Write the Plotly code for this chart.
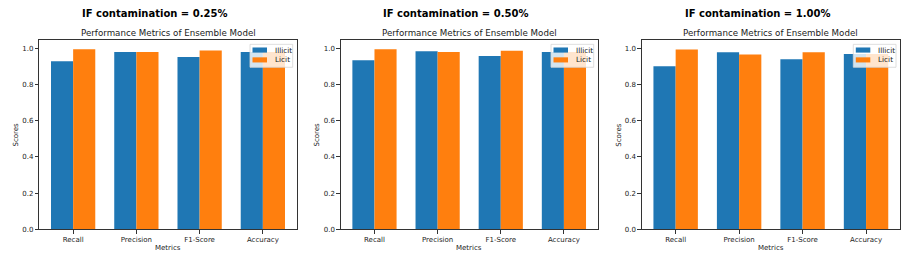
import plotly.graph_objects as go

metrics = ["Recall", "Precision", "F1-Score", "Accuracy"]
panel_titles = ["IF contamination = 0.25%", "IF contamination = 0.50%", "IF contamination = 1.00%"]
series_names = ["Illicit", "Licit"]
illicit_025 = [0.929, 0.981, 0.953, 0.981]
licit_025 = [0.996, 0.981, 0.989, 0.981]
illicit_050 = [0.935, 0.985, 0.958, 0.981]
licit_050 = [0.996, 0.981, 0.987, 0.981]
illicit_100 = [0.902, 0.979, 0.940, 0.970]
licit_100 = [0.994, 0.967, 0.980, 0.970]
y_ticks = [0.0, 0.2, 0.4, 0.6, 0.8, 1.0]

W, H = 912, 268
FONT = "DejaVu Sans"
TXT = "#1a1a1a"
COLORS = ["#1f77b4", "#ff7f0e"]

panels = [
    (illicit_025, licit_025, (39.3, 296.7), 154.5, 15.7),
    (illicit_050, licit_050, (340.7, 597.7), 455.7, 316.7),
    (illicit_100, licit_100, (641.7, 900.0), 757.7, 619.0),
]
y_dom = [1 - 232.7 / H, 1 - 41 / H]

def px(x):
    return x / W

def py(y):
    return 1 - y / H

fig = go.Figure()
layout = dict(
    width=W, height=H, margin=dict(l=0, r=0, t=0, b=0),
    paper_bgcolor="white", plot_bgcolor="white",
    barmode="group", bargap=0.3, bargroupgap=0,
    font=dict(family=FONT, size=7, color=TXT),
    showlegend=False,
)
annotations = []
shapes = []
for i, (ill, lic, (x0, x1), sup_x, ylab_x) in enumerate(panels):
    n = "" if i == 0 else str(i + 1)
    xa, ya = "x" + n, "y" + n
    for vals, name, col in zip([ill, lic], series_names, COLORS):
        fig.add_trace(go.Bar(x=metrics, y=vals, name=name, marker=dict(color=col, line=dict(width=0)),
                             xaxis=xa, yaxis=ya))
    axis_common = dict(showline=True, linecolor="#333", linewidth=0.8, mirror=True,
                       ticks="outside", ticklen=3.5, tickwidth=0.8, tickcolor="#333",
                       showgrid=False, zeroline=False, tickfont=dict(family=FONT, size=7, color=TXT))
    layout["xaxis" + n] = dict(domain=[px(x0), px(x1)], anchor=ya, range=[-0.535, 3.535],
                               type="category", categoryorder="array", categoryarray=metrics, **axis_common)
    layout["yaxis" + n] = dict(domain=y_dom, anchor=xa, range=[0, 1.045], tickvals=y_ticks,
                               tickformat=".1f", **axis_common)
    # legend box (upper right, matplotlib style)
    bx0, bx1, by0, by1 = x1 - 46.7, x1 - 4, 45, 68.3
    shapes.append(dict(type="rect", xref="paper", yref="paper", x0=px(bx0), x1=px(bx1), y0=py(by1), y1=py(by0),
                       fillcolor="rgba(255,255,255,0.8)", line=dict(color="#d5d5d5", width=0.8), layer="above"))
    for k, (name, col) in enumerate(zip(series_names, COLORS)):
        cy = 50.8 + k * 10
        shapes.append(dict(type="rect", xref="paper", yref="paper", x0=px(bx0 + 2.5), x1=px(bx0 + 17),
                           y0=py(cy + 2.6), y1=py(cy - 2.6), fillcolor=col, line=dict(width=0), layer="above"))
        annotations.append(dict(text=name, x=px(bx0 + 22.5), y=py(cy), xref="paper", yref="paper",
                                showarrow=False, xanchor="left", yanchor="middle",
                                font=dict(family=FONT, size=7.3, color=TXT)))
    annotations.append(dict(text="<b>" + panel_titles[i] + "</b>", x=px(sup_x), y=py(14),
                            xref="paper", yref="paper", showarrow=False, xanchor="center", yanchor="middle",
                            font=dict(family=FONT, size=10, color="black")))
    annotations.append(dict(text="Performance Metrics of Ensemble Model", x=px((x0 + x1) / 2), y=py(33.5),
                            xref="paper", yref="paper", showarrow=False, xanchor="center", yanchor="middle",
                            font=dict(family=FONT, size=8.7, color=TXT)))
    annotations.append(dict(text="Metrics", x=px((x0 + x1) / 2), y=py(251.7),
                            xref="paper", yref="paper", showarrow=False, xanchor="center", yanchor="middle",
                            font=dict(family=FONT, size=7, color=TXT)))
    annotations.append(dict(text="Scores", x=px(ylab_x), y=(y_dom[0] + y_dom[1]) / 2, textangle=-90,
                            xref="paper", yref="paper", showarrow=False, xanchor="center", yanchor="middle",
                            font=dict(family=FONT, size=7, color=TXT)))
layout["annotations"] = annotations
layout["shapes"] = shapes
fig.update_layout(**layout)
fig.write_html("out.html", config={"displayModeBar": False},
               post_script="document.body.style.margin='0px';")
